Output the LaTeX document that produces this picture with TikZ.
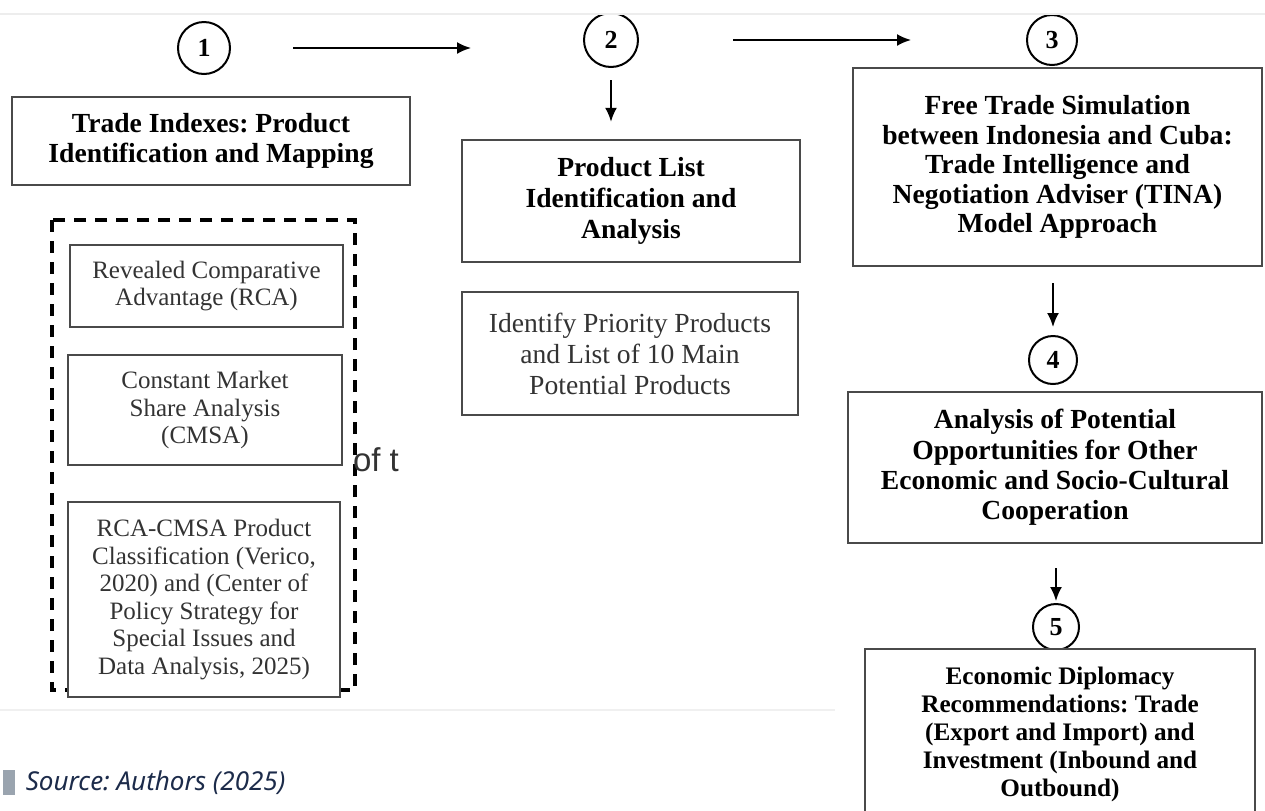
\documentclass[tikz,border=0pt]{standalone}
\usepackage{fontspec}
\setmainfont{Liberation Serif}
\newfontfamily\arialfont{Liberation Sans}
\newfontfamily\notefont{Noto Sans}
\usetikzlibrary{positioning,arrows.meta}
\definecolor{boxline}{HTML}{4A4A4A}
\definecolor{softtext}{HTML}{333333}
\definecolor{notenavy}{HTML}{1C2B4A}
\definecolor{notebar}{HTML}{9AA4AF}
\frenchspacing
\begin{document}
\begin{tikzpicture}[x=.5pt,y=-.5pt,
  num/.style={draw,circle,line width=1pt,inner sep=0pt,font=\fontsize{13}{13}\selectfont\bfseries},
  mainbox/.style={draw=boxline,line width=1.2pt,fill=white,align=center,inner sep=0pt,font=\fontsize{13.8}{14.8}\selectfont\bfseries},
  subbox/.style={draw=boxline,line width=1pt,fill=white,align=center,inner sep=0pt,text=softtext,font=\fontsize{12.5}{13.8}\selectfont},
  arr/.style={-{Latex[length=7pt,width=6pt]},line width=1pt}]
  \useasboundingbox (0,0) rectangle (1265,810);
  \clip (0,0) rectangle (1265,810);
  % page edges
  \draw[black!6,line width=1pt](0,710)--(835,710);
  % step numbers
  \node[num,minimum size=26pt] (c1) at (204,48) {1};
  \node[num,minimum size=27pt] (c2) at (611,40) {2};
  \node[num,minimum size=25pt] (c3) at (1052,40) {3};
  \node[num,minimum size=24pt] (c4) at (1053,360) {4};
  \node[num,minimum size=23pt] (c5) at (1056,627) {5};
  % step 1
  \node[mainbox,minimum width=199pt,minimum height=44pt] (index) at (211,141)
    {Trade Indexes: Product\\Identification and Mapping};
  \draw[line width=1.6pt,dash pattern=on 6pt off 4.5pt](52,220) rectangle (355,690);
  \node[subbox,minimum width=136.5pt,minimum height=41pt] (rca) at (206.5,286)
    {Revealed Comparative\\Advantage (RCA)};
  \node[subbox,minimum width=137pt,minimum height=55pt] (cmsa) at (205,410)
    {Constant Market\\Share Analysis\\(CMSA)};
  \node[subbox,minimum width=136pt,minimum height=97.5pt] (classify) at (204,599.5)
    {RCA-CMSA Product\\Classification (Verico,\\2020) and (Center of\\Policy Strategy for\\Special Issues and\\Data Analysis, 2025)};
  \node[text=softtext,font=\arialfont\fontsize{16.5}{16.5}\selectfont,inner sep=0pt] (stray) at (376,460) {of t};
  % step 2
  \node[mainbox,minimum width=169pt,minimum height=61pt,font=\fontsize{13.8}{15.5}\selectfont\bfseries] (prodlist) at (631,201)
    {Product List\\Identification and\\Analysis};
  \node[subbox,minimum width=168pt,minimum height=61.5pt,font=\fontsize{13.8}{15.5}\selectfont] (priority) at (630,353.5)
    {Identify Priority Products\\and List of 10 Main\\Potential Products};
  % step 3
  \node[mainbox,minimum width=204.5pt,minimum height=99pt] (tina) at (1057.5,167)
    {Free Trade Simulation\\between Indonesia and Cuba:\\Trade Intelligence and\\Negotiation Adviser (TINA)\\Model Approach};
  % step 4
  \node[mainbox,minimum width=207pt,minimum height=75.5pt,font=\fontsize{13.8}{15.2}\selectfont\bfseries] (coop) at (1055,467.5)
    {Analysis of Potential\\Opportunities for Other\\Economic and Socio-Cultural\\Cooperation};
  % step 5
  \node[mainbox,minimum width=195pt,minimum height=85pt,anchor=north,font=\fontsize{12.6}{14}\selectfont\bfseries] (diplo) at (1060,648)
    {Economic Diplomacy\\Recommendations: Trade\\(Export and Import) and\\Investment (Inbound and\\Outbound)};
  % flow
  \draw[arr,shorten <=31pt,shorten >=56pt](c1.east)--(c1.east-|c2.west);
  \draw[arr,shorten <=47pt,shorten >=57.5pt](c2.east)--(c2.east-|c3.west);
  \draw[arr,shorten <=6pt,shorten >=8.5pt](c2)--(c2|-prodlist.north);
  \draw[arr,shorten <=8pt,shorten >=4pt](tina.south-|c4)--(c4);
  \draw[arr,shorten <=12pt,shorten >=1pt](coop.south-|c5)--(c5);
  % source note
  \node[fill=notebar,minimum width=6pt,minimum height=12.5pt,inner sep=0pt] (bar) at (9,782.5) {};
  \node[right=5pt of bar,inner sep=0pt,text=notenavy,font=\notefont\itshape\fontsize{13}{15}\selectfont] (source) {Source: Authors (2025)};
  % top edge
  \fill[white](0,0) rectangle (1265,13);
  \draw[black!7,line width=1pt](0,14)--(1265,14);
\end{tikzpicture}
\end{document}
